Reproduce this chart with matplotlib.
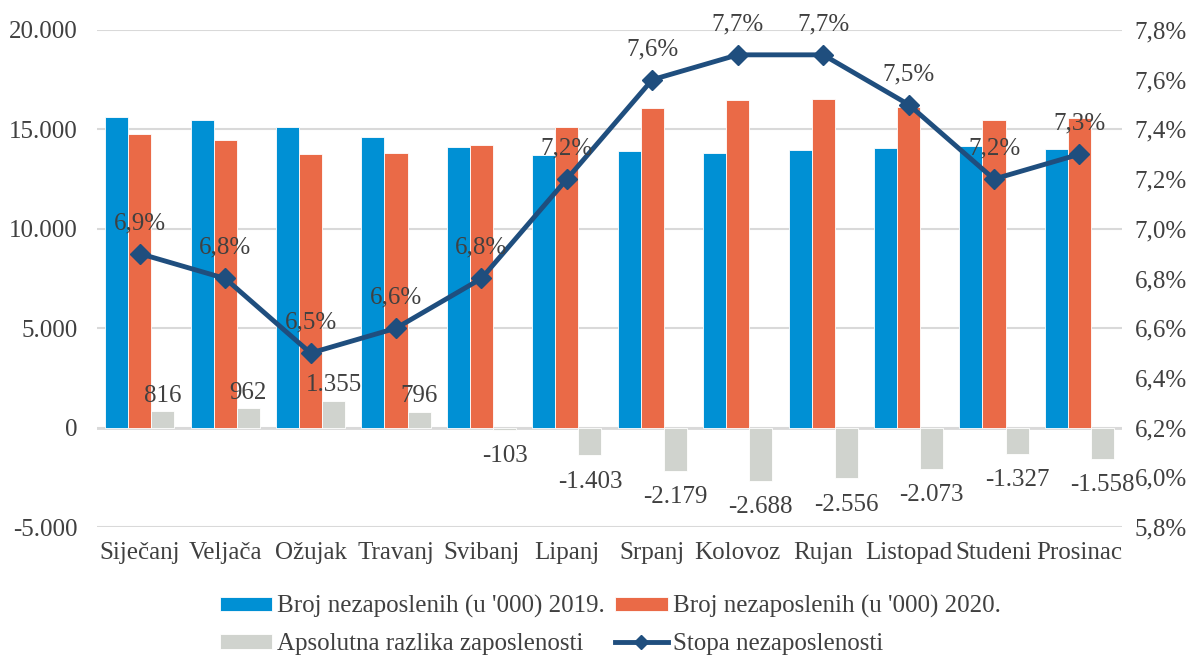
import numpy as np
import matplotlib.pyplot as plt

plt.rcParams['font.family'] = ['Liberation Serif', 'DejaVu Serif']

months = ['Siječanj', 'Veljača', 'Ožujak', 'Travanj', 'Svibanj', 'Lipanj',
          'Srpanj', 'Kolovoz', 'Rujan', 'Listopad', 'Studeni', 'Prosinac']
nezap_2019 = [15600, 15450, 15100, 14600, 14100, 13700, 13900, 13800, 13950, 14050, 14150, 14000]
nezap_2020 = [14784, 14488, 13745, 13804, 14203, 15103, 16079, 16488, 16506, 16123, 15477, 15558]
razlika = [816, 962, 1355, 796, -103, -1403, -2179, -2688, -2556, -2073, -1327, -1558]
stopa = [6.9, 6.8, 6.5, 6.6, 6.8, 7.2, 7.6, 7.7, 7.7, 7.5, 7.2, 7.3]

c_2019 = '#0090D4'
c_2020 = '#EA6A47'
c_raz = '#D0D3CE'
c_line = '#1F4E7E'
c_text = '#404040'
fs = 18


def fmt_thousands(v):
    s = f'{abs(int(round(v))):,}'.replace(',', '.')
    return ('-' if v < 0 else '') + s


fig = plt.figure(figsize=(11.92, 6.59), dpi=100)
ax = fig.add_axes([0.0814, 0.2003, 0.860, 0.7542])
ax2 = ax.twinx()

x = np.arange(len(months))
w = 0.27
b1 = ax.bar(x - w, nezap_2019, w, color=c_2019, edgecolor='white', linewidth=0.6,
            label="Broj nezaposlenih (u '000) 2019.", zorder=2)
b2 = ax.bar(x, nezap_2020, w, color=c_2020, edgecolor='white', linewidth=0.6,
            label="Broj nezaposlenih (u '000) 2020.", zorder=2)
b3 = ax.bar(x + w, razlika, w, color=c_raz, edgecolor='white', linewidth=0.6,
            label='Apsolutna razlika zaposlenosti', zorder=2)

for xi, v in zip(x + w, razlika):
    off = 11 if v > 0 else -19
    ax.annotate(fmt_thousands(v), (xi, v), xytext=(0, off), textcoords='offset points',
                ha='center', va='center', fontsize=fs, color=c_text)

ax.set_ylim(-5000, 20000)
ax.set_xlim(-0.5, len(months) - 0.5)
ax.set_yticks(np.arange(-5000, 20001, 5000))
ax.set_yticklabels([fmt_thousands(v) for v in np.arange(-5000, 20001, 5000)])
ax.set_xticks(x)
ax.set_xticklabels(months)
ax.grid(axis='y', color='#D9D9D9', linewidth=1.5, zorder=0)
ax.set_axisbelow(True)
ax.axhline(0, color='#D9D9D9', linewidth=2, zorder=1)
ax.tick_params(axis='both', length=0, labelsize=fs, colors=c_text)
ax.tick_params(axis='x', pad=11)
ax.tick_params(axis='y', pad=14)

ln, = ax2.plot(x, stopa, color=c_line, linewidth=3.5, marker='D', markersize=10,
               label='Stopa nezaposlenosti', zorder=3)
for xi, v in zip(x, stopa):
    ax2.annotate(f'{v:.1f}%'.replace('.', ','), (xi, v), xytext=(0, 22), textcoords='offset points',
                 ha='center', va='center', fontsize=fs, color=c_text)
ax2.set_ylim(5.8, 7.8)
rt = np.arange(5.8, 7.81, 0.2)
ax2.set_yticks(rt)
ax2.set_yticklabels([f'{v:.1f}%'.replace('.', ',') for v in rt])
ax2.tick_params(axis='y', length=0, labelsize=fs, colors=c_text, pad=9)

for a in (ax, ax2):
    for s in a.spines.values():
        s.set_visible(False)

fig.legend([b1, b3, b2, ln],
           [b1.get_label(), b3.get_label(), b2.get_label(), ln.get_label()],
           ncol=2, loc='center', bbox_to_anchor=(0.512, 0.051), frameon=False,
           fontsize=fs, labelcolor=c_text, handlelength=2.1, handleheight=0.5,
           handletextpad=0.2, columnspacing=0.4, labelspacing=0.6, markerscale=0.7)

fig.savefig('out.png', dpi=100)
